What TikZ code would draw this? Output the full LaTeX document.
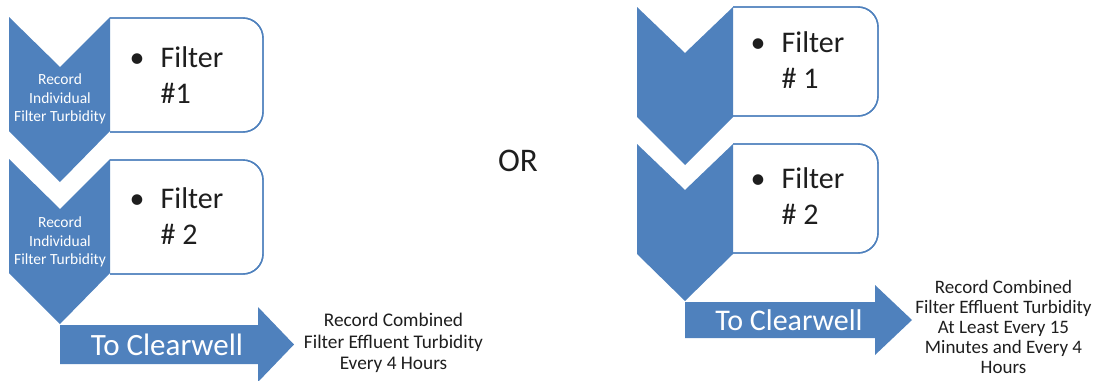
\documentclass[tikz,border=0pt]{standalone}
\usepackage{fontspec}
\setmainfont{Carlito}
\definecolor{sablue}{HTML}{4F81BD}
\definecolor{txt}{HTML}{1E1E1E}
\tikzset{
  chev/.style={fill=sablue, draw=none},
  fbox/.style={fill=white, draw=sablue, line width=1.4pt, rounded corners=20pt},
  arrowshape/.style={fill=sablue, draw=none},
  chevtext/.style={text=white, align=center, inner sep=0pt, font=\fontsize{15.5}{18.5}\selectfont},
  boxtext/.style={anchor=base west, inner sep=0pt, text=txt, font=\fontsize{30}{36}\selectfont},
  arrtext/.style={text=white, inner sep=0pt, font=\fontsize{31}{36}\selectfont},
  notetext/.style={text=txt, align=center, inner sep=0pt}
}
\newcommand{\filterlist}[1]{\begin{tabular}[t]{@{}l@{\hspace{16pt}}l@{}}\textbullet & Filter\\ & #1\end{tabular}}
\begin{document}
\begin{tikzpicture}[x=1pt,y=-1pt]
\useasboundingbox (0,0) rectangle (1097,380);
% ---------------- left diagram ----------------
\fill[fbox] (110,18) -- (263,18) -- (263,132) -- (110,132);
\fill[fbox] (110,160) -- (263,160) -- (263,274) -- (110,274);
\draw[fbox, fill=none] (110,18) -- (263,18) -- (263,132) -- (110,132);
\draw[fbox, fill=none] (110,160) -- (263,160) -- (263,274) -- (110,274);
\fill[chev] (9,17) -- (60,67) -- (110,17) -- (110,131) -- (60,182) -- (9,131) -- cycle;
\fill[chev] (9,159) -- (60,209) -- (110,159) -- (110,273) -- (60,324) -- (9,273) -- cycle;
\fill[arrowshape] (60,325) -- (258,325) -- (258,307) -- (294,344.5) -- (258,382) -- (258,364) -- (60,364) -- cycle;
\node[chevtext] (rec1) at (60,99) {Record\\Individual\\Filter Turbidity};
\node[chevtext] (rec2) at (60,242) {Record\\Individual\\Filter Turbidity};
\node[boxtext] (lf1) at (129.5,67) {\filterlist{\#1}};
\node[boxtext] (lf2) at (129.5,208) {\filterlist{\# 2}};
\node[arrtext] (lclear) at (167,345) {To Clearwell};
\node[notetext, font=\fontsize{19.3}{21.5}\selectfont] (lnote) at (393.5,343) {Record Combined\\Filter Effluent Turbidity\\Every 4 Hours};
% ---------------- OR ----------------
\node[text=txt, inner sep=0pt, font=\fontsize{33}{36}\selectfont] (or) at (518,161) {OR};
% ---------------- right diagram ----------------
\fill[fbox] (733,7) -- (878,7) -- (878,116) -- (733,116);
\fill[fbox] (733,144) -- (878,144) -- (878,253) -- (733,253);
\draw[fbox, fill=none] (733,7) -- (878,7) -- (878,116) -- (733,116);
\draw[fbox, fill=none] (733,144) -- (878,144) -- (878,253) -- (733,253);
\fill[chev] (637,7) -- (685,53) -- (733,7) -- (733,117) -- (685,165) -- (637,117) -- cycle;
\fill[chev] (637,144) -- (685,190) -- (733,144) -- (733,254) -- (685,301) -- (637,254) -- cycle;
\fill[arrowshape] (685,302) -- (875,302) -- (875,285) -- (912,320) -- (875,355) -- (875,338) -- (685,338) -- cycle;
\node[boxtext] (rf1) at (750.5,52) {\filterlist{\# 1}};
\node[boxtext] (rf2) at (750.5,188) {\filterlist{\# 2}};
\node[arrtext, font=\fontsize{30}{36}\selectfont] (rclear) at (789,320) {To Clearwell};
\node[notetext, font=\fontsize{19}{20}\selectfont] (rnote) at (1003.5,327) {Record Combined\\Filter Effluent Turbidity\\At Least Every 15\\Minutes and Every 4\\Hours};
\end{tikzpicture}
\end{document}
